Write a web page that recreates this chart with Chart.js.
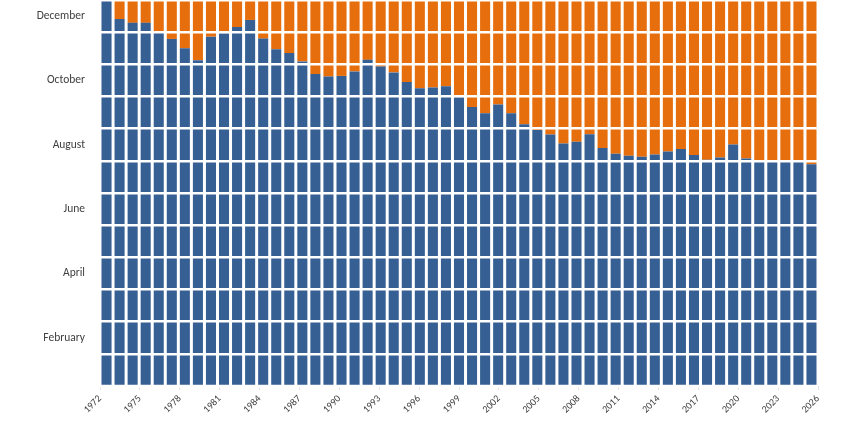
<!DOCTYPE html>
<html>
<head>
<meta charset="utf-8">
<script src="https://cdn.jsdelivr.net/npm/chart.js@4.4.1/dist/chart.umd.min.js"></script>
<style>
  html, body { margin: 0; padding: 0; background: #ffffff; }
  #wrap { width: 846px; height: 422px; position: relative; }
</style>
</head>
<body>
<div id="wrap"><canvas id="c"></canvas></div>
<script>
// ---- data ----
const years = [1972, 1973, 1974, 1975, 1976, 1977, 1978, 1979, 1980, 1981,
               1982, 1983, 1984, 1985, 1986, 1987, 1988, 1989, 1990, 1991,
               1992, 1993, 1994, 1995, 1996, 1997, 1998, 1999, 2000, 2001,
               2002, 2003, 2004, 2005, 2006, 2007, 2008, 2009, 2010, 2011,
               2012, 2013, 2014, 2015, 2016, 2017, 2018, 2019, 2020, 2021,
               2022, 2023, 2024, 2025, 2026];
// month position (in months from start of year) reached by the blue part
const blueValues = [12.00, 11.41, 11.29, 11.29, 10.98, 10.79, 10.50, 10.13, 10.86, 10.97,
                    11.16, 11.38, 10.80, 10.47, 10.35, 10.09, 9.70, 9.62, 9.64, 9.78,
                    10.14, 9.93, 9.75, 9.45, 9.26, 9.28, 9.32, 8.98, 8.67, 8.48,
                    8.75, 8.48, 8.14, 7.96, 7.82, 7.54, 7.59, 7.83, 7.40, 7.22,
                    7.16, 7.13, 7.20, 7.29, 7.37, 7.18, 7.03, 7.10, 7.51, 7.07,
                    6.98, 6.98, 6.98, 6.98, 6.89];
const yearEnd = 12;
const monthNames = ['January', 'February', 'March', 'April', 'May', 'June',
                    'July', 'August', 'September', 'October', 'November', 'December'];
const monthLabelPositions = [1.5, 3.5, 5.5, 7.5, 9.5, 11.5];
const yearTicks = [1972, 1975, 1978, 1981, 1984, 1987, 1990, 1993, 1996, 1999,
                   2002, 2005, 2008, 2011, 2014, 2017, 2020, 2023, 2026];

// ---- style ----
const BLUE = '#365f94';
const ORANGE = '#e66e0d';
const TEXT = '#404040';
const FONT = 'Calibri, Carlito, Lato, "Open Sans", sans-serif';

new Chart(document.getElementById('c'), {
  type: 'bar',
  data: {
    labels: years.map(String),
    datasets: [
      { label: 'blue', data: blueValues, backgroundColor: BLUE, grouped: false, xAxisID: 'x', yAxisID: 'y' },
      { label: 'orange', data: blueValues.map(b => [b, yearEnd]), backgroundColor: ORANGE, grouped: false, xAxisID: 'x', yAxisID: 'y' }
    ]
  },
  options: {
    responsive: true,
    maintainAspectRatio: false,
    animation: false,
    layout: { padding: { left: 0, right: 28, top: 0, bottom: 0 } },
    plugins: { legend: { display: false }, tooltip: { enabled: false } },
    datasets: { bar: { barPercentage: 0.77, categoryPercentage: 1.0 } },
    scales: {
      x: { type: 'category', display: false, offset: true },
      xYears: {
        type: 'linear', position: 'bottom', min: 1972, max: 2026, offset: false,
        afterBuildTicks: s => { s.ticks = yearTicks.map(v => ({ value: v })); },
        ticks: { autoSkip: false, minRotation: 45, maxRotation: 45, padding: 3,
                 callback: v => String(v), color: TEXT, font: { family: FONT, size: 10 } },
        grid: { offset: false, drawOnChartArea: false, drawTicks: true, tickLength: 4, color: '#e3e3e3' },
        border: { display: true, color: '#e3e3e3' },
        afterFit: s => { s.height = 36; s.paddingLeft = 0; s.paddingRight = 0; }
      },
      y: {
        type: 'linear', position: 'left', min: 0, max: 12,
        ticks: { display: false, stepSize: 1 },
        grid: { z: 1, color: '#ffffff', lineWidth: 2.5, drawTicks: false },
        border: { display: false },
        afterFit: s => { s.width = 0; s.paddingTop = 0; s.paddingBottom = 0; }
      },
      yMonths: {
        type: 'linear', position: 'left', min: 0, max: 12,
        afterBuildTicks: s => { s.ticks = monthLabelPositions.map(v => ({ value: v })); },
        ticks: { padding: 15, color: TEXT, font: { family: FONT, size: 11.5 },
                 callback: v => monthNames[Math.floor(v)] },
        grid: { display: false, drawTicks: false },
        border: { display: false },
        afterFit: s => { s.width = 100; s.paddingTop = 0; s.paddingBottom = 0; }
      }
    }
  }
});
</script>
</body>
</html>
